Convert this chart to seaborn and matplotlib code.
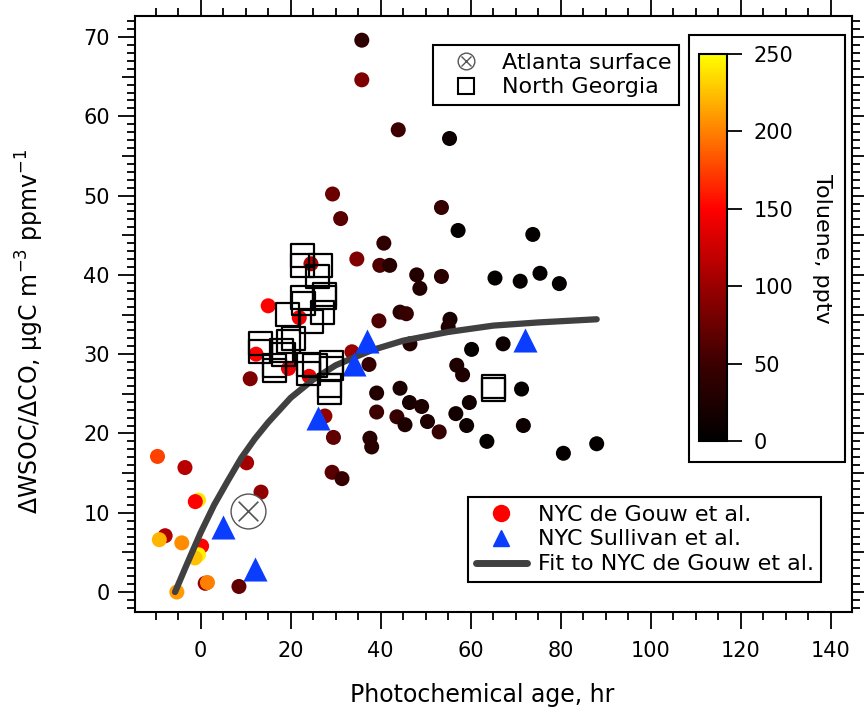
import numpy as np
import pandas as pd
import matplotlib
matplotlib.use("Agg")
import matplotlib.pyplot as plt
import seaborn as sns
import matplotlib.ticker as mticker
from matplotlib.colors import LinearSegmentedColormap, Normalize
from matplotlib.lines import Line2D
from matplotlib.patches import Rectangle
from matplotlib.legend_handler import HandlerTuple

# ---------------- data ----------------
gouw_age = [-9.6, -3.5, 10.2, 13.4, -0.5, -1.2, -7.9, -9.2, -4.2, 0.2, -0.5, -1.3, -5.3, 1.0, 1.5, 8.5,
            15.0, 21.9, 12.3, 19.5, 11.0, 24.1, 24.5, 33.6, 27.6, 37.4,
            35.8, 35.8, 43.9, 55.3, 29.3, 31.1, 53.5, 57.2, 73.8, 34.7, 40.7, 39.8, 42.0, 48.0,
            48.7, 53.5, 65.4, 71.0, 75.4, 79.7, 44.3, 45.7, 55.4, 55.0, 39.6, 46.5, 60.2, 67.2,
            56.9, 58.2, 71.3, 44.3, 39.1, 39.1, 46.4, 49.1, 59.7, 56.7, 43.6, 45.4, 50.4, 53.0,
            59.1, 63.6, 71.7, 80.6, 88.0, 37.6, 38.0, 29.5, 29.2, 31.4]
gouw_ratio = [17.1, 15.7, 16.3, 12.6, 11.6, 11.4, 7.1, 6.6, 6.2, 5.8, 4.7, 4.3, 0.0, 1.1, 1.2, 0.7,
              36.1, 34.6, 30.0, 28.2, 26.9, 27.2, 41.4, 30.3, 22.2, 28.7,
              69.6, 64.6, 58.3, 57.2, 50.2, 47.1, 48.5, 45.6, 45.1, 42.0, 44.0, 41.2, 41.2, 40.0,
              38.3, 39.8, 39.6, 39.2, 40.2, 38.9, 35.3, 35.1, 34.4, 33.4, 34.2, 31.3, 30.6, 31.3,
              28.6, 27.4, 25.6, 25.7, 25.1, 22.7, 23.9, 23.4, 23.9, 22.5, 22.1, 21.1, 21.5, 20.2,
              21.0, 19.0, 21.0, 17.5, 18.7, 19.4, 18.3, 19.5, 15.1, 14.3]
gouw_toluene = [175, 115, 105, 95, 240, 150, 110, 220, 205, 150, 245, 225, 210, 100, 200, 70,
                150, 145, 150, 145, 85, 140, 110, 100, 95, 45,
                40, 85, 50, 10, 75, 65, 45, 3, 3, 85, 40, 60, 35, 30,
                30, 35, 3, 3, 3, 3, 35, 45, 20, 30, 60, 30, 3, 10,
                25, 25, 3, 25, 30, 50, 20, 25, 15, 15, 45, 25, 25, 45,
                10, 3, 10, 3, 3, 35, 35, 70, 65, 45]

sullivan_age = [5.0, 12.1, 26.1, 34.0, 37.0, 72.1]
sullivan_ratio = [8.2, 2.9, 21.9, 28.7, 31.6, 31.8]

georgia_age = [22.7, 22.7, 26.7, 26.0, 27.5, 27.6, 22.7, 22.8, 27.1, 24.7, 19.2, 20.6, 19.5, 13.2,
               13.2, 18.0, 18.5, 16.5, 16.4, 23.9, 25.4, 23.9, 29.1, 29.1, 28.7, 28.7, 65.0, 65.0]
georgia_ratio = [42.5, 41.2, 41.2, 39.8, 37.5, 37.2, 37.1, 36.4, 35.3, 34.1, 35.0, 32.0, 31.6, 31.4,
                 30.3, 30.5, 29.9, 28.0, 28.6, 28.7, 28.6, 27.6, 29.0, 28.2, 25.2, 26.1, 25.9, 25.5]

atlanta_age = [10.5]
atlanta_ratio = [10.2]

fit_age = [-5.7, -3, 0, 3, 6, 9, 12, 15, 20, 25, 30, 38, 45, 55, 65, 75, 88]
fit_ratio = [0.0, 3.6, 7.5, 11.0, 14.0, 16.9, 19.3, 21.4, 24.5, 26.8, 28.6, 30.5, 31.7, 32.8, 33.6, 34.0, 34.4]

x_ticks = [0, 20, 40, 60, 80, 100, 120, 140]
y_ticks = [0, 10, 20, 30, 40, 50, 60, 70]
toluene_ticks = [0, 50, 100, 150, 200, 250]

legend_top = ["Atlanta surface", "North Georgia"]
legend_bottom = ["NYC de Gouw et al.", "NYC Sullivan et al.", "Fit to NYC de Gouw et al."]

# ---------------- style ----------------
sns.set_style("ticks")
plt.rcParams["font.family"] = ["DejaVu Sans"]
plt.rcParams["mathtext.fontset"] = "dejavusans"
for k in ["text.color", "axes.labelcolor", "xtick.color", "ytick.color", "axes.edgecolor"]:
    plt.rcParams[k] = "black"

W, H = 864, 710
fig = plt.figure(figsize=(W / 100, H / 100), dpi=100)
fig.patch.set_facecolor("white")
ax = fig.add_axes([135 / W, 1 - 612 / H, (851.7 - 135) / W, (612 - 16) / H])
ax.set_facecolor("white")

cmap = LinearSegmentedColormap.from_list(
    "toluene", [(0.0, "#000000"), (0.2, "#3c0000"), (0.4, "#9a0000"), (0.6, "#ff0000"),
                (0.8, "#ff8000"), (1.0, "#ffff00")])
norm = Normalize(0, 250)

gouw = pd.DataFrame({"age": gouw_age, "ratio": gouw_ratio, "toluene": np.array(gouw_toluene, float)})
sns.scatterplot(data=gouw, x="age", y="ratio", hue="toluene", palette=cmap, hue_norm=norm,
                s=117, linewidth=0, legend=False, ax=ax, zorder=2)

sns.lineplot(x=fit_age, y=fit_ratio, color="#404040", linewidth=4.5, sort=False,
             estimator=None, ax=ax, zorder=3)

sns.scatterplot(x=sullivan_age, y=sullivan_ratio, marker="^", s=300, color="#0b3dff",
                linewidth=0, legend=False, ax=ax, zorder=4)

sns.scatterplot(x=georgia_age, y=georgia_ratio, marker="s", s=275, color="black",
                linewidth=1.6, legend=False, ax=ax, zorder=5)
ax.collections[-1].set_facecolor("none")
ax.collections[-1].set_edgecolor("black")

sns.scatterplot(x=atlanta_age, y=atlanta_ratio, marker="o", s=630, color="white",
                linewidth=1.0, legend=False, ax=ax, zorder=5)
ax.collections[-1].set_edgecolor("#555555")
sns.scatterplot(x=atlanta_age, y=atlanta_ratio, marker="x", s=200, color="#555555",
                linewidth=1.2, legend=False, ax=ax, zorder=6)

# ---------------- axes ----------------
ax.set_xlim(-14.6, 144.67)
ax.set_ylim(-2.52, 72.65)
ax.set_xlabel("")
ax.set_ylabel("")
ax.xaxis.set_major_locator(mticker.FixedLocator(x_ticks))
ax.xaxis.set_minor_locator(mticker.MultipleLocator(5))
ax.yaxis.set_major_locator(mticker.FixedLocator(y_ticks))
ax.yaxis.set_minor_locator(mticker.MultipleLocator(1))
ax.set_xticklabels([str(v) for v in x_ticks])
ax.set_yticklabels([str(v) for v in y_ticks])
for sp in ax.spines.values():
    sp.set_visible(True)
    sp.set_linewidth(1.5)
    sp.set_color("black")
ax.tick_params(which="both", direction="out", top=True, right=True, width=1.3, color="black",
               labelcolor="black")
ax.tick_params(which="major", length=12, labelsize=15)
ax.tick_params(which="minor", length=6)
ax.tick_params(axis="x", which="major", pad=9)
ax.tick_params(axis="y", which="major", pad=6)

fig.text(482 / W, 1 - 695 / H, "Photochemical age, hr", fontsize=17, ha="center", va="center",
         color="black")
fig.text(30 / W, 1 - 331 / H, r"ΔWSOC/ΔCO, μgC m$^{-3}$ ppmv$^{-1}$", fontsize=17,
         rotation=90, ha="center", va="center", color="black")

# ---------------- legends ----------------
atl_h = (Line2D([], [], marker="o", ms=12, mfc="white", mec="#555555", mew=1, ls=""),
         Line2D([], [], marker="x", ms=7, mec="#555555", mew=1, ls=""))
sq_h = Line2D([], [], marker="s", ms=11, mfc="none", mec="black", mew=1.5, ls="")
leg1 = ax.legend([atl_h, sq_h], legend_top, handler_map={tuple: HandlerTuple(ndivide=1)},
                 loc="upper left", bbox_to_anchor=(433 / W, 1 - 45 / H), bbox_transform=fig.transFigure,
                 borderaxespad=0, fontsize=16, frameon=True, fancybox=False, framealpha=1,
                 edgecolor="black", handlelength=2.3, handletextpad=0.45, labelspacing=0.22,
                 borderpad=0.34, labelcolor="black")
leg1.get_frame().set_linewidth(1.5)
ax.add_artist(leg1)

h1 = Line2D([], [], marker="o", ms=11.5, color="#ff0000", ls="")
h2 = Line2D([], [], marker="^", ms=12, color="#0b3dff", ls="")
h3 = Line2D([], [], color="#404040", lw=5)
leg2 = ax.legend([h1, h2, h3], legend_bottom, loc="upper left",
                 bbox_to_anchor=(468 / W, 1 - 497 / H), bbox_transform=fig.transFigure,
                 borderaxespad=0, fontsize=16, frameon=True, fancybox=False, framealpha=1,
                 edgecolor="black", handlelength=2.3, handletextpad=0.5, labelspacing=0.22,
                 borderpad=0.34, labelcolor="black")
leg2.get_frame().set_linewidth(1.5)

# ---------------- colorbar ----------------
box = Rectangle((689 / W, 1 - 462 / H), (845 - 689) / W, (462 - 35) / H, transform=fig.transFigure,
                facecolor="white", edgecolor="black", linewidth=1.5, zorder=1)
fig.patches.append(box)
cax = fig.add_axes([699 / W, 1 - 441 / H, 28 / W, (441 - 54) / H])
cax.set_zorder(2)
sm = plt.cm.ScalarMappable(cmap=cmap, norm=norm)
cb = fig.colorbar(sm, cax=cax, ticks=toluene_ticks)
cb.outline.set_linewidth(1.5)
cb.outline.set_edgecolor("black")
cax.tick_params(length=11, width=1.3, labelsize=15, pad=8, color="black", labelcolor="black")
fig.text(822 / W, 1 - 249 / H, "Toluene, pptv", fontsize=16, rotation=270, ha="center", va="center",
         color="black")

# medium ticks at every 5 on the y axis
fig.canvas.draw()
minor_locs = ax.yaxis.get_minorticklocs()
for loc, tk in zip(minor_locs, ax.yaxis.get_minor_ticks(len(minor_locs))):
    if abs(loc % 5) < 1e-6 or abs(loc % 5 - 5) < 1e-6:
        tk.tick1line.set_markersize(9.5)
        tk.tick2line.set_markersize(9.5)

fig.savefig("out.png", dpi=100, facecolor="white")
